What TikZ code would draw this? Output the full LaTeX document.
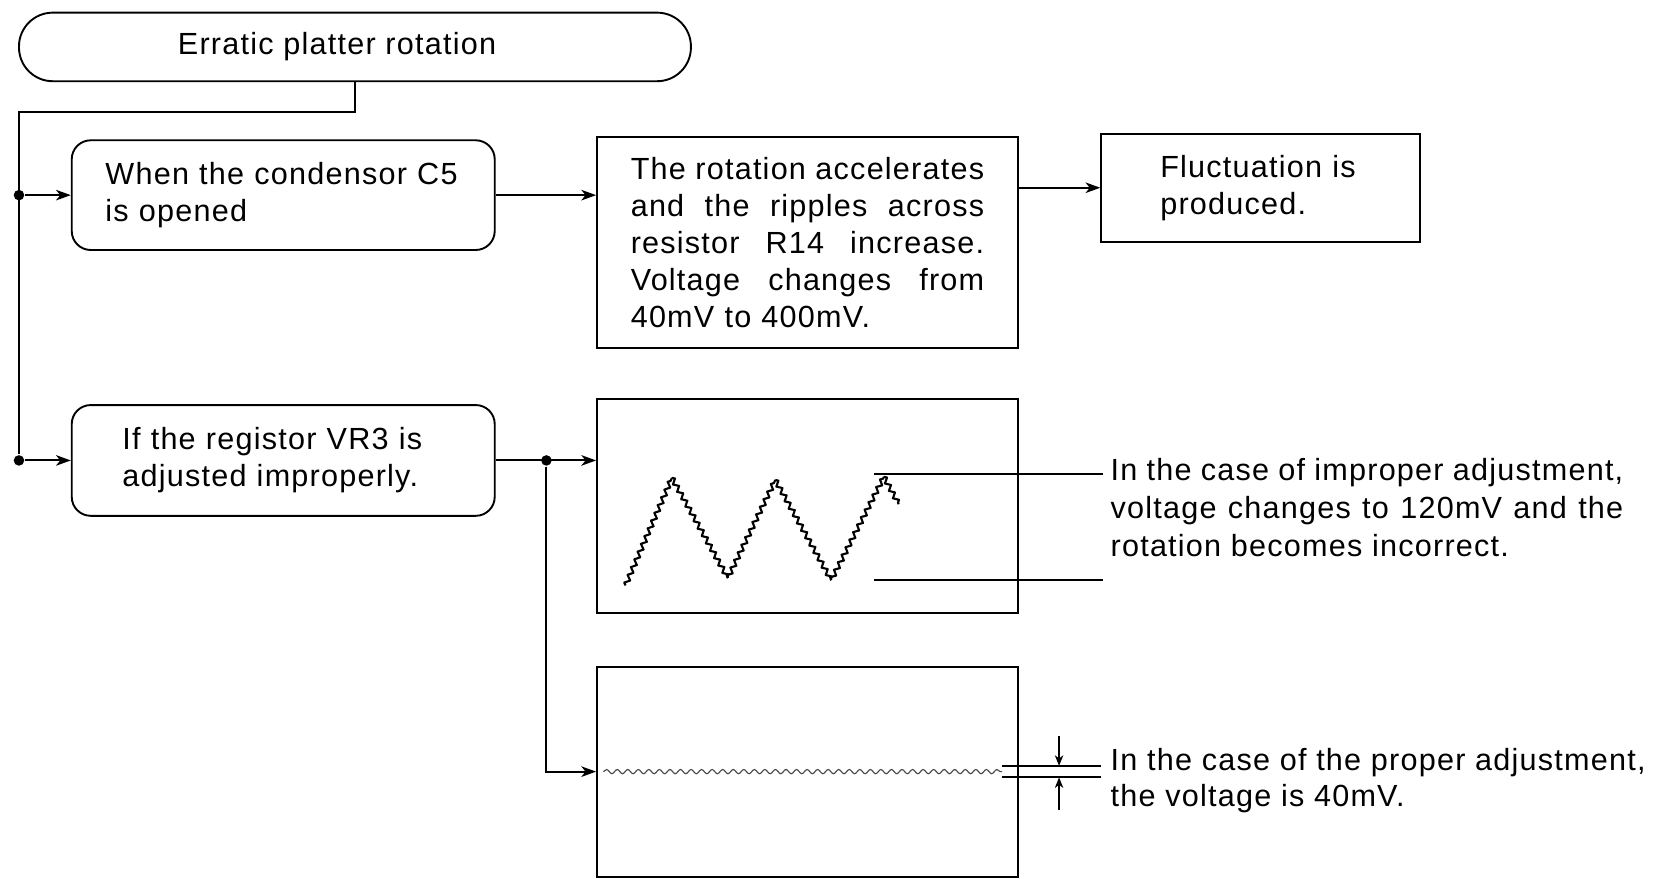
\documentclass[tikz,border=0pt]{standalone}
\usepackage{fontspec}
\setmainfont{Liberation Sans}[LetterSpace=4]
\usetikzlibrary{arrows.meta,decorations.pathmorphing,calc}
\begin{document}
\begin{tikzpicture}[x=0.5pt,y=-0.5pt,
  font=\fontsize{14.5pt}{17.5pt}\selectfont, line width=0.9pt,
  box/.style={draw, inner ysep=0pt, align=left},
  rbox/.style={box, rounded corners=9pt},
  arr/.style={-{Stealth[length=7pt,width=5pt,inset=2pt]}},
  sarr/.style={line width=0.6pt,-{Stealth[length=5pt,width=4pt,inset=1.5pt]}},
  dot/.style={circle, fill, inner sep=0pt, minimum size=5pt},
  txt/.style={anchor=west, inner sep=0pt, align=left},
  jag/.style={line width=1pt, line join=round, decorate,
    decoration={zigzag, segment length=4pt, amplitude=1.1pt}}]
\useasboundingbox (0,0) rectangle (1568,833);

% boxes
\node[box, rounded corners=16pt, minimum width=318.5pt, minimum height=32.5pt, align=center]
  (top) at (336.5,44.5) {Erratic platter rotation\hspace*{17pt}};
\node[rbox, text width=168.5pt, inner xsep=16pt, minimum height=52pt]
  (b1) at (268.5,185) {When the condensor C5\\is opened};
\node[rbox, text width=152.5pt, inner xsep=24pt, minimum height=52.5pt]
  (b4) at (268.5,436.5) {If the registor VR3 is\\adjusted improperly.};
\node[box, text width=167.5pt, inner xsep=16pt, minimum height=100pt]
  (b2) at (765.5,230) {\makebox[167.5pt]{The\hfill rotation\hfill accelerates}\\
    \makebox[167.5pt]{and\hfill the\hfill ripples\hfill across}\\
    \makebox[167.5pt]{resistor\hfill R14\hfill increase.}\\
    \makebox[167.5pt]{Voltage\hfill changes\hfill from}\\
    40mV to 400mV.};
\node[box, text width=95pt, inner xsep=28pt, minimum height=51pt]
  (b3) at (1195,178) {Fluctuation is\\produced.};
\node[box, minimum width=199.5pt, minimum height=101.5pt] (b5) at (765.5,479.5) {};
\node[box, minimum width=199.5pt, minimum height=99.5pt] (b6) at (765.5,731.5) {};

% junction dots
\node[dot] (d1) at (18,185) {};
\node[dot] (d2) at (18,436.5) {};
\node[dot] (d3) at (518,436.5) {};

% connectors
\draw (top.south) -- ++(0,28) -| (d2);
\draw[arr] (d1) -- (b1.west);
\draw[arr] (d2) -- (b4.west);
\draw[arr] (b1.east) -- (b1.east -| b2.west);
\draw[arr] (b2.east |- b3.west) -- (b3.west);
\draw[arr] (b4.east) -- (b4.east -| b5.west);
\draw[arr] (d3) |- (b6.west);

% improper waveform
\draw[jag] (593,555) -- (637,453);
\draw[jag] (637,453) -- (690,548);
\draw[jag] (690,548) -- (735,455);
\draw[jag] (735,455) -- (788,550);
\draw[jag] (788,550) -- (838,452);
\draw[jag] (838,452) -- (852,478);

\node[txt] (imp) at (1052,481) {\makebox[243pt]{In\hfill the\hfill case\hfill of\hfill improper\hfill adjustment,}\\[0.5pt]
  \makebox[243pt]{voltage\hfill changes\hfill to\hfill 120mV\hfill and\hfill the}\\[0.5pt]
  rotation becomes incorrect.};
\coordinate (w1) at (829,449);
\coordinate (w2) at (829,550);
\draw (w1) -- ($(imp.west |- w1)+(-6,0)$);
\draw (w2) -- ($(imp.west |- w2)+(-6,0)$);

% proper waveform
\draw[line width=0.55pt, draw=black!70, decorate, decoration={snake, segment length=5pt, amplitude=1pt}]
  (572,731.5) -- (950,731.5);
\node[txt] (prop) at (1052,740) {In the case of the proper adjustment,\\the voltage is 40mV.};
\coordinate (p1) at (950,726);
\coordinate (p2) at (950,737);
\draw (p1) -- ($(prop.west |- p1)+(-8,0)$);
\draw (p2) -- ($(prop.west |- p2)+(-8,0)$);
\coordinate (a1) at (1004,698);
\coordinate (a2) at (1004,768);
\draw[sarr] (a1) -- (a1 |- p1);
\draw[sarr] (a2) -- (a2 |- p2);
\end{tikzpicture}
\end{document}
